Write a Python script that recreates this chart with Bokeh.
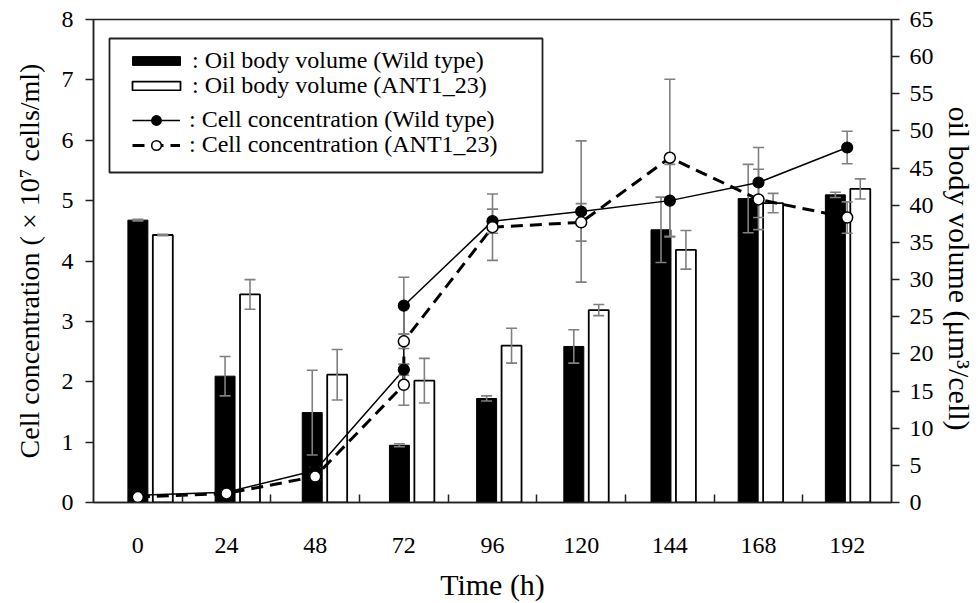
from bokeh.plotting import figure
from bokeh.models import (Range1d, LinearAxis, FixedTicker, Legend, LegendItem,
                          BoxAnnotation)
from bokeh.embed import file_html
from bokeh.resources import INLINE

# ---------------- data ----------------
times = ["0", "24", "48", "72", "96", "120", "144", "168", "192"]

# oil body volume (um^3/cell), right axis
wild_vol = [38.0, 17.0, 12.1, 7.7, 14.0, 21.0, 36.7, 40.9, 41.4]
wild_vol_err = [0.1, 2.65, 5.7, 0.2, 0.35, 2.25, 4.4, 4.6, 0.35]
ant_vol = [36.0, 28.0, 17.2, 16.4, 21.1, 25.9, 34.0, 40.3, 42.2]
ant_vol_err = [0.1, 2.0, 3.4, 3.0, 2.35, 0.75, 2.6, 1.3, 1.35]

# cell concentration (x10^7 cells/ml), left axis
line_times = ["0", "24", "48", "72", "72", "96", "120", "144", "168", "192"]
wild_cell = [0.12, 0.17, 0.53, 2.20, 3.26, 4.66, 4.82, 5.00, 5.30, 5.88]
wild_cell_err = [0.03, 0.03, 0.05, 0.09, 0.47, 0.20, 1.17, 0.60, 0.58, 0.27]
ant_cell = [0.09, 0.15, 0.43, 1.95, 2.67, 4.56, 4.64, 5.71, 5.02, 4.72]
ant_cell_err = [0.03, 0.03, 0.05, 0.34, 0.12, 0.55, 0.31, 1.30, 0.50, 0.26]

left_ticks = list(range(0, 9))
right_ticks = list(range(0, 70, 5))

legend_labels = [": Oil body volume (Wild type)", ": Oil body volume (ANT1_23)",
                 ": Cell concentration (Wild type)", ": Cell concentration (ANT1_23)"]

# ---------------- styling ----------------
FONT = "Liberation Serif"
ERR = "#808080"

idx = list(range(len(times)))
line_x = [times.index(t) for t in line_times]

p = figure(width=978, height=603, x_range=Range1d(-0.5, len(times) - 0.5),
           y_range=Range1d(0, 8), output_backend="svg", toolbar_location=None,
           min_border_left=93, min_border_right=85, min_border_top=19,
           min_border_bottom=101, background_fill_color="white",
           border_fill_color="white")
p.extra_y_ranges = {"vol": Range1d(0, 65)}
p.extra_x_ranges = {"bars": Range1d(-0.652, 8.501)}
p.xgrid.visible = False
p.ygrid.visible = False
p.outline_line_color = "#222222"
p.outline_line_width = 1.5

# x axis
xa = p.xaxis[0]
xa.ticker = FixedTicker(ticks=idx, minor_ticks=[i + 0.5 for i in idx[:-1]])
xa.major_label_overrides = {i: t for i, t in zip(idx, times)}
xa.major_tick_in = 0
xa.major_tick_out = 0
xa.minor_tick_in = 8
xa.minor_tick_out = 0
xa.minor_tick_line_color = "#222222"
xa.minor_tick_line_width = 1.5
xa.major_label_standoff = 35
xa.axis_label = "Time (h)"
xa.axis_label_standoff = 12

# left axis
ya = p.yaxis[0]
ya.ticker = FixedTicker(ticks=left_ticks)
ya.major_tick_in = 0
ya.major_tick_out = 8
ya.minor_tick_in = 0
ya.minor_tick_out = 0
ya.major_label_standoff = 12
ya.axis_label = "Cell concentration ( \u00d7 10\u2077 cells/ml)"
ya.axis_label_standoff = 14

# right axis
ra = LinearAxis(y_range_name="vol", ticker=FixedTicker(ticks=right_ticks))
ra.major_tick_in = 0
ra.major_tick_out = 8
ra.minor_tick_in = 0
ra.minor_tick_out = 0
ra.major_label_standoff = 10
ra.axis_label = "\u00a0\u00a0oil body volume (\u03bcm\u00b3/cell)"
ra.axis_label_standoff = 6
p.add_layout(ra, "right")

for ax in (xa, ya, ra):
    ax.axis_line_color = "#222222"
    ax.axis_line_width = 1.5
    ax.major_tick_line_color = "#222222"
    ax.major_tick_line_width = 1.5
    ax.major_label_text_font = FONT
    ax.major_label_text_font_size = "24px"
    ax.major_label_text_color = "black"
    ax.major_label_text_font_style = "normal"
    ax.axis_label_text_font = FONT
    ax.axis_label_text_font_style = "normal"
    ax.axis_label_text_color = "black"
    ax.axis_label_text_font_size = "28px"
xa.axis_label_text_font_size = "30px"
ra.axis_label_text_font_size = "30px"

# ---------------- bars ----------------
BW = 0.229
OFF = 0.143
wx = [i - OFF for i in idx]
axx = [i + OFF for i in idx]
r_wild_bar = p.vbar(x=wx, top=wild_vol, width=BW, bottom=0, fill_color="black",
                    line_color="black", line_width=1, x_range_name="bars",
                    y_range_name="vol")
r_ant_bar = p.vbar(x=axx, top=ant_vol, width=BW, bottom=0, fill_color="white",
                   line_color="black", line_width=1.8, x_range_name="bars",
                   y_range_name="vol")

for xs, v, e in ((wx, wild_vol, wild_vol_err), (axx, ant_vol, ant_vol_err)):
    lo = [a - b for a, b in zip(v, e)]
    hi = [a + b for a, b in zip(v, e)]
    p.segment(x0=xs, x1=xs, y0=lo, y1=hi, line_color=ERR, line_width=1.6,
              x_range_name="bars", y_range_name="vol")
    p.scatter(x=xs + xs, y=lo + hi, marker="dash", size=11, line_color=ERR,
              line_width=1.6, x_range_name="bars", y_range_name="vol")

# ---------------- lines ----------------
r_wild_line = p.line(x=line_x, y=wild_cell, line_color="black", line_width=1.5)
r_ant_line = p.line(x=line_x, y=ant_cell, line_color="black", line_width=3,
                    line_dash="12 7")

for v, e in ((wild_cell, wild_cell_err), (ant_cell, ant_cell_err)):
    lo = [a - b for a, b in zip(v, e)]
    hi = [a + b for a, b in zip(v, e)]
    p.segment(x0=line_x, x1=line_x, y0=lo, y1=hi, line_color=ERR, line_width=1.6)
    p.scatter(x=line_x + line_x, y=lo + hi, marker="dash", size=11,
              line_color=ERR, line_width=1.6)

r_wild_pt = p.scatter(x=line_x, y=wild_cell, marker="circle", size=11,
                      fill_color="black", line_color="black", line_width=1.2)
r_ant_pt = p.scatter(x=line_x, y=ant_cell, marker="circle", size=11,
                     fill_color="white", line_color="black", line_width=1.5)

# ---------------- legend ----------------
box = BoxAnnotation(left=16, right=449, bottom=330, top=464,
                    left_units="screen", right_units="screen",
                    bottom_units="screen", top_units="screen",
                    fill_color="white", fill_alpha=1.0,
                    line_color="#222222", line_alpha=1.0, line_width=1.8)
p.add_layout(box)

common = dict(padding=0, margin=0, border_line_color=None,
              background_fill_alpha=0, label_text_font_size="24px",
              label_text_color="black", label_text_font_style="normal",
              label_text_font=FONT)
row_renderers = [[r_wild_bar], [r_ant_bar], [r_wild_line, r_wild_pt],
                 [r_ant_line, r_ant_pt]]
row_loc = [(33, 428), (33, 403), (39, 369), (39, 344)]
for k in range(4):
    is_bar = k < 2
    leg = Legend(items=[LegendItem(label=legend_labels[k],
                                   renderers=row_renderers[k])],
                 location=row_loc[k],
                 glyph_width=60 if is_bar else 48,
                 glyph_height=11 if is_bar else 24,
                 label_standoff=6 if is_bar else 9, **common)
    p.add_layout(leg)

open("out.html", "w").write(file_html(p, INLINE))
